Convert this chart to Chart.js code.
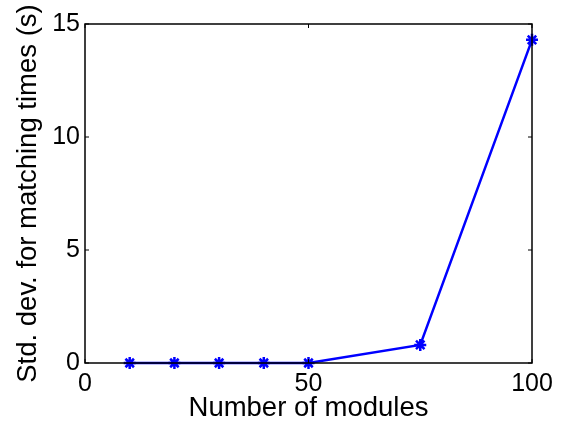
<!DOCTYPE html>
<html>
<head>
<meta charset="utf-8">
<script src="https://cdn.jsdelivr.net/npm/chart.js@4/dist/chart.umd.min.js"></script>
<style>
html,body{margin:0;padding:0;background:#fff;}
#wrap{width:566px;height:425px;position:relative;}
</style>
</head>
<body>
<div id="wrap"><canvas id="c" width="566" height="425"></canvas></div>
<script>
const modules = [10, 20, 30, 40, 50, 75, 100];
const stdDev = [0, 0, 0, 0, 0, 0.8, 14.3];
const xTicks = [0, 50, 100];
const yTicks = [0, 5, 10, 15];
const xTitle = 'Number of modules';
const yTitle = 'Std. dev. for matching times (s)';

const FONT = 'Liberation Sans, Arial, Helvetica, sans-serif';

const framePlugin = {
  id: 'frame',
  afterDraw(chart) {
    const {ctx, chartArea: a, scales} = chart;
    ctx.save();
    ctx.strokeStyle = '#000';
    ctx.lineWidth = 1.5;
    ctx.strokeRect(a.left, a.top, a.right - a.left, a.bottom - a.top);
    ctx.lineWidth = 1;
    const tl = 4;
    xTicks.forEach(v => {
      const px = scales.x.getPixelForValue(v);
      ctx.beginPath();
      ctx.moveTo(px, a.bottom); ctx.lineTo(px, a.bottom - tl);
      ctx.moveTo(px, a.top); ctx.lineTo(px, a.top + tl);
      ctx.stroke();
    });
    yTicks.forEach(v => {
      const py = scales.y.getPixelForValue(v);
      ctx.beginPath();
      ctx.moveTo(a.left, py); ctx.lineTo(a.left + tl, py);
      ctx.moveTo(a.right, py); ctx.lineTo(a.right - tl, py);
      ctx.stroke();
    });
    ctx.restore();
  }
};

new Chart(document.getElementById('c'), {
  type: 'line',
  data: {
    datasets: [{
      data: modules.map((m, i) => ({x: m, y: stdDev[i]})),
      borderColor: '#0000ff',
      backgroundColor: '#0000ff',
      borderWidth: 2.5,
      pointStyle: 'star',
      pointRadius: 6,
      pointBorderWidth: 2.5,
      pointBorderColor: '#0000ff',
      tension: 0,
      clip: false
    }]
  },
  options: {
    responsive: false,
    animation: false,
    devicePixelRatio: 1,
    layout: {padding: {left: 0, top: 24, right: 34, bottom: 0}},
    plugins: {legend: {display: false}, tooltip: {enabled: false}},
    scales: {
      x: {
        type: 'linear', min: 0, max: 100,
        afterBuildTicks: s => { s.ticks = xTicks.map(v => ({value: v})); },
        afterFit: s => { s.height = 62; },
        grid: {display: false, drawTicks: false},
        border: {display: false},
        ticks: {color: '#000', font: {family: FONT, size: 25}, padding: 6, maxRotation: 0},
        title: {display: true, text: xTitle, color: '#000', font: {family: FONT, size: 27.5}, padding: {top: 0, bottom: 0}}
      },
      y: {
        type: 'linear', min: 0, max: 15,
        afterBuildTicks: s => { s.ticks = yTicks.map(v => ({value: v})); },
        afterFit: s => { s.width = 85; },
        grid: {display: false, drawTicks: false},
        border: {display: false},
        ticks: {color: '#000', font: {family: FONT, size: 25}, padding: 5},
        title: {display: true, text: yTitle, color: '#000', font: {family: FONT, size: 27.5}, padding: {top: 12, bottom: 0}}
      }
    }
  },
  plugins: [framePlugin]
});
</script>
</body>
</html>
